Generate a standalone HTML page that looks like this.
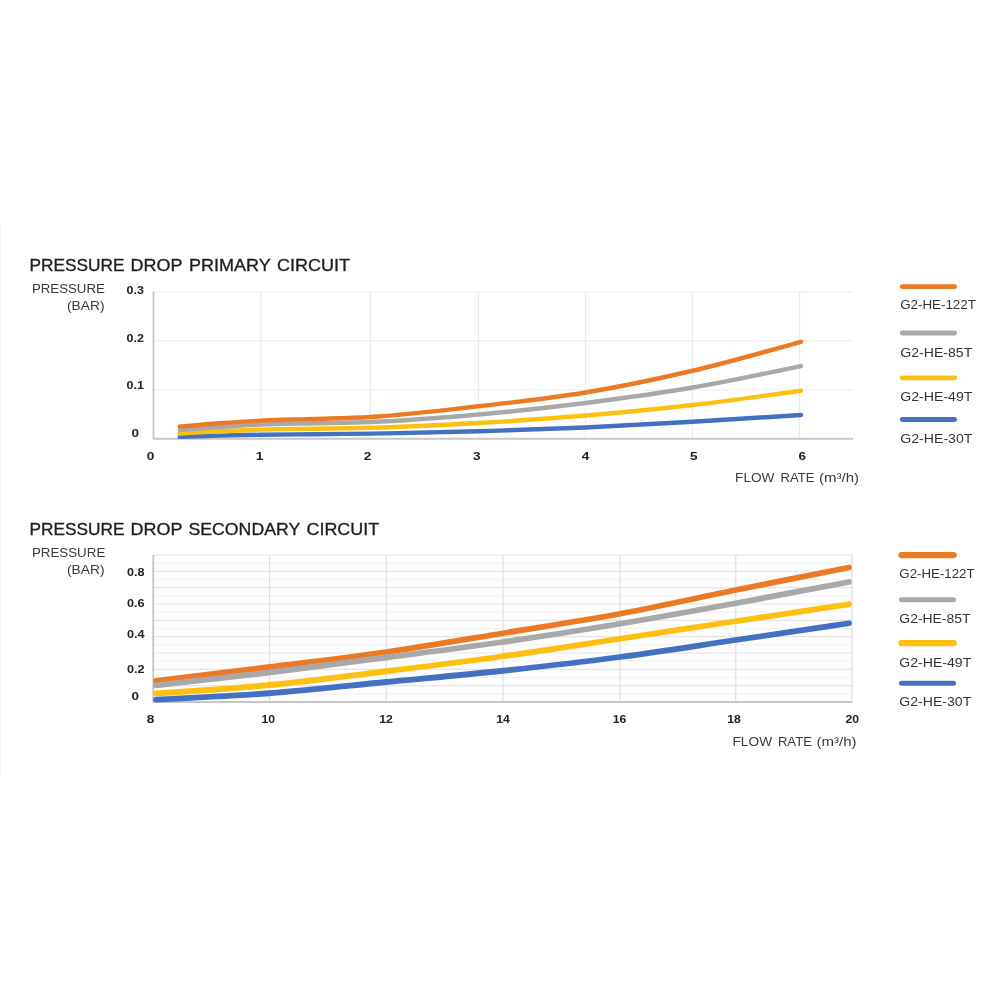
<!DOCTYPE html>
<html lang="en"><head><meta charset="utf-8"><title>Pressure drop charts</title>
<style>
html,body{margin:0;padding:0;background:#fff;}
body{width:1000px;height:1000px;overflow:hidden;position:relative;font-family:"Liberation Sans",sans-serif;}
svg{position:absolute;left:0;top:0;display:block;}
text{font-family:"Liberation Sans",sans-serif;}
.t{font-size:15.7px;fill:#1c1c1c;stroke:#1c1c1c;stroke-width:.3px;}
.l{font-size:12.8px;fill:#3a3a3a;}
.n{font-size:10.3px;font-weight:bold;fill:#222;}
.g{font-size:12.8px;fill:#333;}
</style></head><body>
<svg width="1000" height="1000" viewBox="0 0 1000 1000">
<rect width="1000" height="1000" fill="#fff"/>
<rect x="0" y="225" width="1" height="550" fill="#f2f2f2"/>

<g>
<text class="t" y="271"><tspan x="29.5" textLength="95.0" lengthAdjust="spacingAndGlyphs">PRESSURE</tspan> <tspan x="130.5" textLength="51.6" lengthAdjust="spacingAndGlyphs">DROP</tspan> <tspan x="189.1" textLength="81.4" lengthAdjust="spacingAndGlyphs">PRIMARY</tspan> <tspan x="277.1" textLength="73.0" lengthAdjust="spacingAndGlyphs">CIRCUIT</tspan></text>
<text class="l" x="31.9" y="293.1" textLength="73.0" lengthAdjust="spacingAndGlyphs">PRESSURE</text>
<text class="l" x="66.9" y="310" textLength="37.6" lengthAdjust="spacingAndGlyphs">(BAR)</text>
<line x1="153.5" x2="853" y1="292" y2="292" stroke="#ebebeb" stroke-width="1.2"/>
<line x1="153.5" x2="853" y1="340.75" y2="340.75" stroke="#ebebeb" stroke-width="1.2"/>
<line x1="153.5" x2="853" y1="390" y2="390" stroke="#ebebeb" stroke-width="1.2"/>
<line x1="261" x2="261" y1="292" y2="438" stroke="#ebebeb" stroke-width="1.2"/>
<line x1="370.5" x2="370.5" y1="292" y2="438" stroke="#ebebeb" stroke-width="1.2"/>
<line x1="478.5" x2="478.5" y1="292" y2="438" stroke="#ebebeb" stroke-width="1.2"/>
<line x1="585.5" x2="585.5" y1="292" y2="438" stroke="#ebebeb" stroke-width="1.2"/>
<line x1="692.5" x2="692.5" y1="292" y2="438" stroke="#ebebeb" stroke-width="1.2"/>
<line x1="799.5" x2="799.5" y1="292" y2="438" stroke="#ebebeb" stroke-width="1.2"/>
<path d="M153.5,291.5 V438.75 H853" fill="none" stroke="#c6c6c6" stroke-width="1.8"/>
<path d="M179.70,436.90 C193.13,436.43 206.57,435.96 220.00,435.60 C233.67,435.23 247.33,434.93 261.00,434.70 C279.00,434.40 297.00,434.38 315.00,434.20 C333.33,434.02 351.67,433.87 370.00,433.60 C406.17,433.07 442.33,432.28 478.50,431.25 C514.17,430.24 549.83,429.08 585.50,427.50 C621.17,425.92 656.83,423.82 692.50,421.75 C728.67,419.65 764.83,417.33 801.00,415.00" fill="none" stroke="#4470c2" stroke-width="4.4" stroke-linecap="round" stroke-linejoin="round"/>
<path d="M179.70,433.50 C193.13,432.72 206.57,431.95 220.00,431.30 C233.67,430.64 247.33,430.01 261.00,429.60 C279.00,429.06 297.00,429.10 315.00,428.80 C333.33,428.50 351.67,428.29 370.00,427.80 C406.17,426.83 442.33,425.07 478.50,423.00 C514.17,420.96 549.83,418.50 585.50,415.50 C621.17,412.50 656.83,409.09 692.50,405.00 C728.67,400.85 764.83,395.80 801.00,390.75" fill="none" stroke="#fdc010" stroke-width="4.4" stroke-linecap="round" stroke-linejoin="round"/>
<path d="M179.70,430.10 C193.13,429.01 206.57,427.93 220.00,427.00 C233.67,426.06 247.33,425.10 261.00,424.50 C279.00,423.70 297.00,423.71 315.00,423.30 C333.33,422.88 351.67,422.71 370.00,422.00 C406.17,420.59 442.33,417.70 478.50,414.50 C514.17,411.35 549.83,407.50 585.50,403.00 C621.17,398.50 656.83,393.61 692.50,387.50 C728.67,381.30 764.83,373.65 801.00,366.00" fill="none" stroke="#a8a8a8" stroke-width="4.4" stroke-linecap="round" stroke-linejoin="round"/>
<path d="M179.70,426.60 C193.13,425.40 206.57,424.19 220.00,423.20 C233.67,422.19 247.33,421.27 261.00,420.60 C279.00,419.72 297.00,419.59 315.00,419.00 C333.33,418.40 351.67,418.05 370.00,417.00 C406.17,414.92 442.33,410.37 478.50,406.25 C514.17,402.19 549.83,398.42 585.50,392.50 C621.17,386.58 656.83,379.13 692.50,370.75 C728.67,362.25 764.83,352.00 801.00,341.75" fill="none" stroke="#ec7a25" stroke-width="4.4" stroke-linecap="round" stroke-linejoin="round"/>
<text class="n" x="126.5" y="294" textLength="17.4" lengthAdjust="spacingAndGlyphs">0.3</text>
<text class="n" x="126.5" y="342" textLength="17.4" lengthAdjust="spacingAndGlyphs">0.2</text>
<text class="n" x="126.5" y="389" textLength="17.4" lengthAdjust="spacingAndGlyphs">0.1</text>
<text class="n" x="131.5" y="437" textLength="7.5" lengthAdjust="spacingAndGlyphs">0</text>
<text class="n" x="146.7" y="459.6" textLength="7.6" lengthAdjust="spacingAndGlyphs">0</text>
<text class="n" x="255.7" y="459.6" textLength="7.6" lengthAdjust="spacingAndGlyphs">1</text>
<text class="n" x="363.7" y="459.6" textLength="7.6" lengthAdjust="spacingAndGlyphs">2</text>
<text class="n" x="472.95" y="459.6" textLength="7.6" lengthAdjust="spacingAndGlyphs">3</text>
<text class="n" x="581.7" y="459.6" textLength="7.6" lengthAdjust="spacingAndGlyphs">4</text>
<text class="n" x="689.95" y="459.6" textLength="7.6" lengthAdjust="spacingAndGlyphs">5</text>
<text class="n" x="798.4" y="459.6" textLength="7.6" lengthAdjust="spacingAndGlyphs">6</text>
<text class="l" y="482"><tspan x="735.1" textLength="39.4" lengthAdjust="spacingAndGlyphs">FLOW</tspan> <tspan x="780.5" textLength="34.0" lengthAdjust="spacingAndGlyphs">RATE</tspan> <tspan x="818.9" textLength="40.2" lengthAdjust="spacingAndGlyphs">(m³/h)</tspan></text>
<line x1="902.2" x2="954.6" y1="286.6" y2="286.6" stroke="#ec7a25" stroke-width="4.8" stroke-linecap="round"/>
<text class="g" x="900.2" y="309" textLength="75.7" lengthAdjust="spacingAndGlyphs">G2-HE-122T</text>
<line x1="902.2" x2="954.6" y1="333" y2="333" stroke="#a8a8a8" stroke-width="4.8" stroke-linecap="round"/>
<text class="g" x="900.2" y="356.9" textLength="72.1" lengthAdjust="spacingAndGlyphs">G2-HE-85T</text>
<line x1="902.2" x2="954.6" y1="377.8" y2="377.8" stroke="#fdc010" stroke-width="4.8" stroke-linecap="round"/>
<text class="g" x="900.2" y="401" textLength="72.3" lengthAdjust="spacingAndGlyphs">G2-HE-49T</text>
<line x1="902.2" x2="954.6" y1="419.5" y2="419.5" stroke="#4470c2" stroke-width="4.8" stroke-linecap="round"/>
<text class="g" x="900.2" y="443" textLength="72.3" lengthAdjust="spacingAndGlyphs">G2-HE-30T</text>
</g>
<g>
<text class="t" y="535"><tspan x="29.5" textLength="95.0" lengthAdjust="spacingAndGlyphs">PRESSURE</tspan> <tspan x="130.5" textLength="51.6" lengthAdjust="spacingAndGlyphs">DROP</tspan> <tspan x="188.5" textLength="111.4" lengthAdjust="spacingAndGlyphs">SECONDARY</tspan> <tspan x="306.5" textLength="72.6" lengthAdjust="spacingAndGlyphs">CIRCUIT</tspan></text>
<text class="l" x="31.9" y="556.5" textLength="73.4" lengthAdjust="spacingAndGlyphs">PRESSURE</text>
<text class="l" x="66.9" y="573.6" textLength="37.6" lengthAdjust="spacingAndGlyphs">(BAR)</text>
<rect x="153.5" y="555" width="699" height="147" fill="#fdfdfd"/>
<line x1="153.5" x2="852.5" y1="555.00" y2="555.00" stroke="#e5e5e5" stroke-width="1.2"/>
<line x1="153.5" x2="852.5" y1="563.17" y2="563.17" stroke="#f3f3f3" stroke-width="1.2"/>
<line x1="153.5" x2="852.5" y1="571.33" y2="571.33" stroke="#e5e5e5" stroke-width="1.2"/>
<line x1="153.5" x2="852.5" y1="579.50" y2="579.50" stroke="#f3f3f3" stroke-width="1.2"/>
<line x1="153.5" x2="852.5" y1="587.67" y2="587.67" stroke="#e5e5e5" stroke-width="1.2"/>
<line x1="153.5" x2="852.5" y1="595.83" y2="595.83" stroke="#f3f3f3" stroke-width="1.2"/>
<line x1="153.5" x2="852.5" y1="604.00" y2="604.00" stroke="#e5e5e5" stroke-width="1.2"/>
<line x1="153.5" x2="852.5" y1="612.17" y2="612.17" stroke="#f3f3f3" stroke-width="1.2"/>
<line x1="153.5" x2="852.5" y1="620.33" y2="620.33" stroke="#e5e5e5" stroke-width="1.2"/>
<line x1="153.5" x2="852.5" y1="628.50" y2="628.50" stroke="#f3f3f3" stroke-width="1.2"/>
<line x1="153.5" x2="852.5" y1="636.67" y2="636.67" stroke="#e5e5e5" stroke-width="1.2"/>
<line x1="153.5" x2="852.5" y1="644.83" y2="644.83" stroke="#f3f3f3" stroke-width="1.2"/>
<line x1="153.5" x2="852.5" y1="653.00" y2="653.00" stroke="#e5e5e5" stroke-width="1.2"/>
<line x1="153.5" x2="852.5" y1="661.17" y2="661.17" stroke="#f3f3f3" stroke-width="1.2"/>
<line x1="153.5" x2="852.5" y1="669.33" y2="669.33" stroke="#e5e5e5" stroke-width="1.2"/>
<line x1="153.5" x2="852.5" y1="677.50" y2="677.50" stroke="#f3f3f3" stroke-width="1.2"/>
<line x1="153.5" x2="852.5" y1="685.67" y2="685.67" stroke="#e5e5e5" stroke-width="1.2"/>
<line x1="153.5" x2="852.5" y1="693.83" y2="693.83" stroke="#f3f3f3" stroke-width="1.2"/>
<line x1="153.5" x2="852.5" y1="702.00" y2="702.00" stroke="#e5e5e5" stroke-width="1.2"/>
<line x1="269.5" x2="269.5" y1="555" y2="702" stroke="#e0e0e0" stroke-width="1.2"/>
<line x1="386.25" x2="386.25" y1="555" y2="702" stroke="#e0e0e0" stroke-width="1.2"/>
<line x1="503" x2="503" y1="555" y2="702" stroke="#e0e0e0" stroke-width="1.2"/>
<line x1="620" x2="620" y1="555" y2="702" stroke="#e0e0e0" stroke-width="1.2"/>
<line x1="735.75" x2="735.75" y1="555" y2="702" stroke="#e0e0e0" stroke-width="1.2"/>
<line x1="852" x2="852" y1="555" y2="702" stroke="#e0e0e0" stroke-width="1.2"/>
<path d="M153.25,555 V702 H852.5" fill="none" stroke="#c6c6c6" stroke-width="1.8"/>
<path d="M156.00,680.90 C193.83,676.32 231.67,671.75 269.50,667.00 C308.42,662.12 347.33,657.62 386.25,652.00 C425.17,646.38 464.08,639.62 503.00,633.25 C542.00,626.87 581.00,621.01 620.00,613.75 C658.58,606.57 697.17,597.79 735.75,590.00 C773.50,582.38 811.25,574.94 849.00,567.50" fill="none" stroke="#ec7a25" stroke-width="5.8" stroke-linecap="round" stroke-linejoin="round"/>
<path d="M156.00,685.40 C193.83,681.24 231.67,677.08 269.50,672.50 C308.42,667.79 347.33,662.58 386.25,657.50 C425.17,652.42 464.08,647.62 503.00,642.00 C542.00,636.37 581.00,630.25 620.00,623.75 C658.58,617.32 697.17,610.29 735.75,603.25 C773.50,596.36 811.25,589.18 849.00,582.00" fill="none" stroke="#a8a8a8" stroke-width="5.8" stroke-linecap="round" stroke-linejoin="round"/>
<path d="M156.00,693.40 C193.83,691.01 231.67,688.62 269.50,685.00 C308.42,681.28 347.33,676.04 386.25,671.25 C425.17,666.46 464.08,661.66 503.00,656.25 C542.00,650.83 581.00,644.61 620.00,638.75 C658.58,632.95 697.17,627.06 735.75,621.25 C773.50,615.56 811.25,609.91 849.00,604.25" fill="none" stroke="#fdc010" stroke-width="5.8" stroke-linecap="round" stroke-linejoin="round"/>
<path d="M156.00,699.60 C193.83,697.86 231.67,696.12 269.50,693.25 C308.42,690.30 347.33,685.75 386.25,682.00 C425.17,678.25 464.08,674.91 503.00,670.75 C542.00,666.58 581.00,662.16 620.00,657.00 C658.58,651.90 697.17,645.69 735.75,640.00 C773.50,634.44 811.25,628.84 849.00,623.25" fill="none" stroke="#4470c2" stroke-width="5.8" stroke-linecap="round" stroke-linejoin="round"/>
<text class="n" x="126.9" y="575.6" textLength="17.6" lengthAdjust="spacingAndGlyphs">0.8</text>
<text class="n" x="126.9" y="607" textLength="17.6" lengthAdjust="spacingAndGlyphs">0.6</text>
<text class="n" x="126.9" y="638" textLength="17.6" lengthAdjust="spacingAndGlyphs">0.4</text>
<text class="n" x="126.9" y="673" textLength="17.6" lengthAdjust="spacingAndGlyphs">0.2</text>
<text class="n" x="131.5" y="700" textLength="7.5" lengthAdjust="spacingAndGlyphs">0</text>
<text class="n" x="146.7" y="723" textLength="7.6" lengthAdjust="spacingAndGlyphs">8</text>
<text class="n" x="261.45" y="723" textLength="13.6" lengthAdjust="spacingAndGlyphs">10</text>
<text class="n" x="379.2" y="723" textLength="13.6" lengthAdjust="spacingAndGlyphs">12</text>
<text class="n" x="496.2" y="723" textLength="13.6" lengthAdjust="spacingAndGlyphs">14</text>
<text class="n" x="612.7" y="723" textLength="13.6" lengthAdjust="spacingAndGlyphs">16</text>
<text class="n" x="727.2" y="723" textLength="13.6" lengthAdjust="spacingAndGlyphs">18</text>
<text class="n" x="845.5" y="723" textLength="13.6" lengthAdjust="spacingAndGlyphs">20</text>
<text class="l" y="745.6"><tspan x="732.5" textLength="39.6" lengthAdjust="spacingAndGlyphs">FLOW</tspan> <tspan x="777.9" textLength="34.0" lengthAdjust="spacingAndGlyphs">RATE</tspan> <tspan x="816.5" textLength="40.0" lengthAdjust="spacingAndGlyphs">(m³/h)</tspan></text>
<line x1="901.6" x2="953.5999999999999" y1="555.1" y2="555.1" stroke="#ec7a25" stroke-width="6.4" stroke-linecap="round"/>
<text class="g" x="899.3" y="577.8" textLength="75.3" lengthAdjust="spacingAndGlyphs">G2-HE-122T</text>
<line x1="901.5" x2="953.5" y1="599.7" y2="599.7" stroke="#a8a8a8" stroke-width="5" stroke-linecap="round"/>
<text class="g" x="899.3" y="623.1" textLength="71.2" lengthAdjust="spacingAndGlyphs">G2-HE-85T</text>
<line x1="901.6" x2="953.5999999999999" y1="643.1" y2="643.1" stroke="#fdc010" stroke-width="6.4" stroke-linecap="round"/>
<text class="g" x="899.3" y="666.5" textLength="72.0" lengthAdjust="spacingAndGlyphs">G2-HE-49T</text>
<line x1="901.5" x2="953.5" y1="683.2" y2="683.2" stroke="#4470c2" stroke-width="5" stroke-linecap="round"/>
<text class="g" x="899.3" y="706.4" textLength="72.0" lengthAdjust="spacingAndGlyphs">G2-HE-30T</text>
</g>
</svg>
</body></html>
